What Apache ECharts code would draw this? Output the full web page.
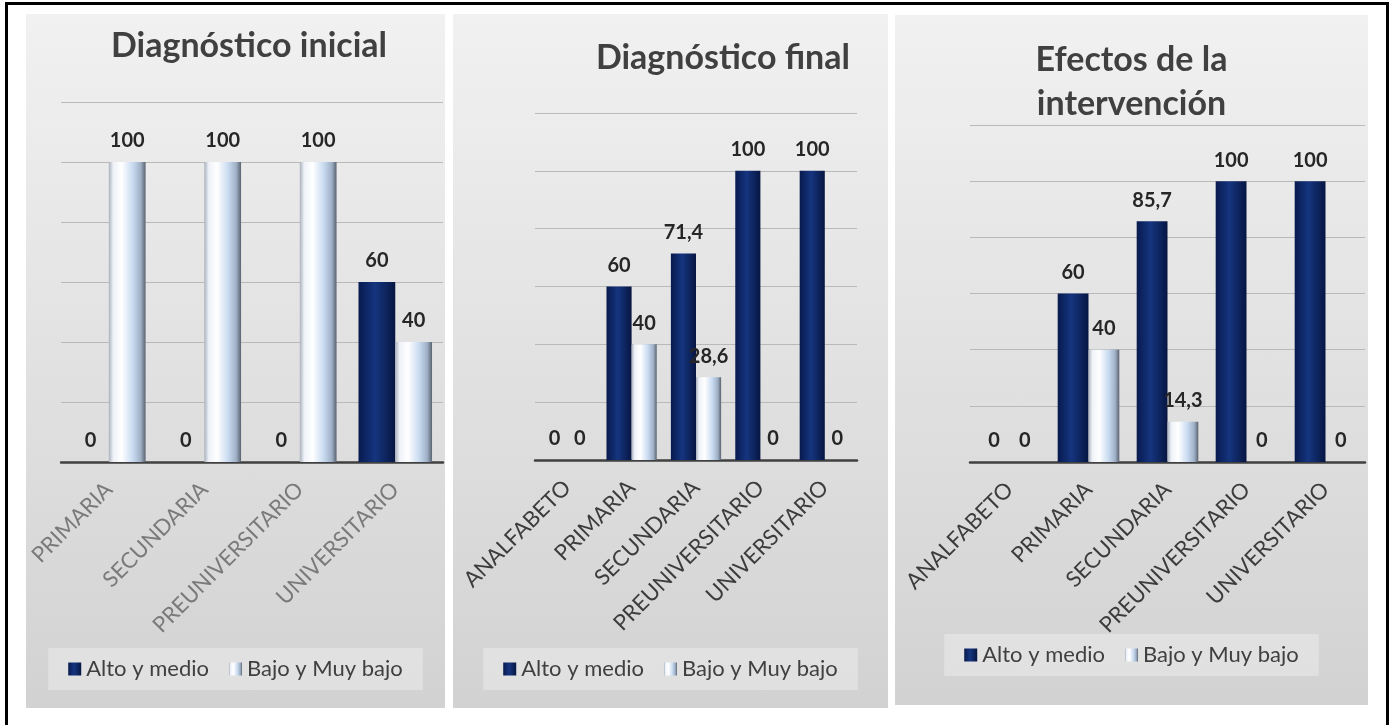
<!DOCTYPE html>
<html>
<head>
<meta charset="utf-8">
<script src="https://cdn.jsdelivr.net/npm/echarts@6/dist/echarts.min.js"></script>
<style>
html,body{margin:0;padding:0;background:#fff;width:1392px;height:725px;overflow:hidden;}
.marco{position:absolute;left:5px;top:2px;width:1378px;height:760px;border:3px solid #000;}
.panel{position:absolute;background:linear-gradient(180deg,#f1f1f1 0%,#e3e3e3 45%,#d2d2d2 100%);}
#p1{left:26px;top:14px;width:419px;height:694px;}
#p2{left:453px;top:14px;width:435px;height:694px;}
#p3{left:895px;top:15px;width:473px;height:690px;}
</style>
</head>
<body>
<div class="marco"></div>
<div class="panel" id="p1"></div>
<div class="panel" id="p2"></div>
<div class="panel" id="p3"></div>
<script>
// datos
const catsInicial = ['PRIMARIA', 'SECUNDARIA', 'PREUNIVERSITARIO', 'UNIVERSITARIO'];
const altoInicial = [0, 0, 0, 60];
const bajoInicial = [100, 100, 100, 40];

const catsFinal = ['ANALFABETO', 'PRIMARIA', 'SECUNDARIA', 'PREUNIVERSITARIO', 'UNIVERSITARIO'];
const altoFinal = [0, 60, 71.4, 100, 100];
const bajoFinal = [0, 40, 28.6, 0, 0];

const altoEfectos = [0, 60, 85.7, 100, 100];
const bajoEfectos = [0, 40, 14.3, 0, 0];

const serieNames = ['Alto y medio', 'Bajo y Muy bajo'];
const yMin = 0, yMax = 120, yStep = 20;

const FONT = 'Lato';

// colores tipo cilindro
const azul = new echarts.graphic.LinearGradient(0, 0, 1, 0, [
  {offset: 0, color: '#081a4e'},
  {offset: 0.45, color: '#15357f'},
  {offset: 1, color: '#071642'}
]);
const blanco = new echarts.graphic.LinearGradient(0, 0, 1, 0, [
  {offset: 0, color: '#a9b1bd'},
  {offset: 0.12, color: '#eef2f8'},
  {offset: 0.35, color: '#ffffff'},
  {offset: 0.65, color: '#c9dbf1'},
  {offset: 0.87, color: '#9eafc6'},
  {offset: 1, color: '#5a626f'}
]);

function fmt(p) {
  return String(p.value).replace('.', ',');
}

function my_charts(id, cfg) {
  let mycharts = echarts.init(document.getElementById(id));
  let label = {
    show: true,
    position: 'top',
    distance: 11,
    formatter: fmt,
    fontFamily: FONT,
    fontWeight: 'bold',
    fontSize: 20,
    color: '#262626'
  };
  let options = {
    title: cfg.title,
    legend: {
      data: [
        {name: serieNames[0], icon: 'rect'},
        {name: serieNames[1], icon: 'rect'}
      ],
      left: 'center',
      top: cfg.legendTop,
      itemWidth: 13,
      itemHeight: 13,
      itemGap: 20,
      padding: [10, 20],
      backgroundColor: 'rgba(255,255,255,0.3)',
      textStyle: {fontFamily: FONT, fontSize: 22, color: '#404040'}
    },
    grid: cfg.grid,
    xAxis: {
      type: 'category',
      data: cfg.cats,
      axisTick: {show: false},
      axisLine: {lineStyle: {color: '#404040', width: 2.5}},
      axisLabel: {
        rotate: 45,
        interval: 0,
        margin: 24,
        fontFamily: FONT,
        fontSize: 22,
        color: cfg.labelColor
      }
    },
    yAxis: {
      type: 'value',
      min: yMin,
      max: yMax,
      interval: yStep,
      axisLabel: {show: false},
      axisLine: {show: false},
      axisTick: {show: false},
      splitLine: {lineStyle: {color: '#b9b9b9', width: 1}}
    },
    series: [
      {
        name: serieNames[0],
        type: 'bar',
        data: cfg.alto,
        barGap: '0%',
        barCategoryGap: cfg.gap,
        itemStyle: {color: azul},
        label: label
      },
      {
        name: serieNames[1],
        type: 'bar',
        data: cfg.bajo,
        itemStyle: {color: blanco},
        label: label
      }
    ]
  };
  mycharts.setOption(options, true);
  window.addEventListener('resize', () => mycharts.resize());
}

const tituloStyle = {fontFamily: FONT, fontWeight: 'bold', fontSize: 34, color: '#404040'};

my_charts('p1', {
  title: {text: 'Diagnóstico inicial', left: 85, top: 15, padding: 0, textStyle: tituloStyle},
  cats: catsInicial, alto: altoInicial, bajo: bajoInicial,
  grid: {left: 34, right: 2, top: 88, bottom: 246},
  gap: '23%',
  labelColor: '#7a7a7a',
  legendTop: 634
});

my_charts('p2', {
  title: {text: 'Diagnóstico final', right: 38, top: 27, padding: 0, textStyle: tituloStyle},
  cats: catsFinal, alto: altoFinal, bajo: bajoFinal,
  grid: {left: 82, right: 31, top: 99, bottom: 248},
  gap: '22%',
  labelColor: '#3c3c3c',
  legendTop: 634
});

my_charts('p3', {
  title: {text: 'Efectos de la\nintervención', left: 'center', top: 23, padding: 0,
    textStyle: Object.assign({lineHeight: 44}, tituloStyle)},
  cats: catsFinal, alto: altoEfectos, bajo: bajoEfectos,
  grid: {left: 75, right: 3, top: 110, bottom: 243},
  gap: '22%',
  labelColor: '#3c3c3c',
  legendTop: 619
});
</script>
</body>
</html>
